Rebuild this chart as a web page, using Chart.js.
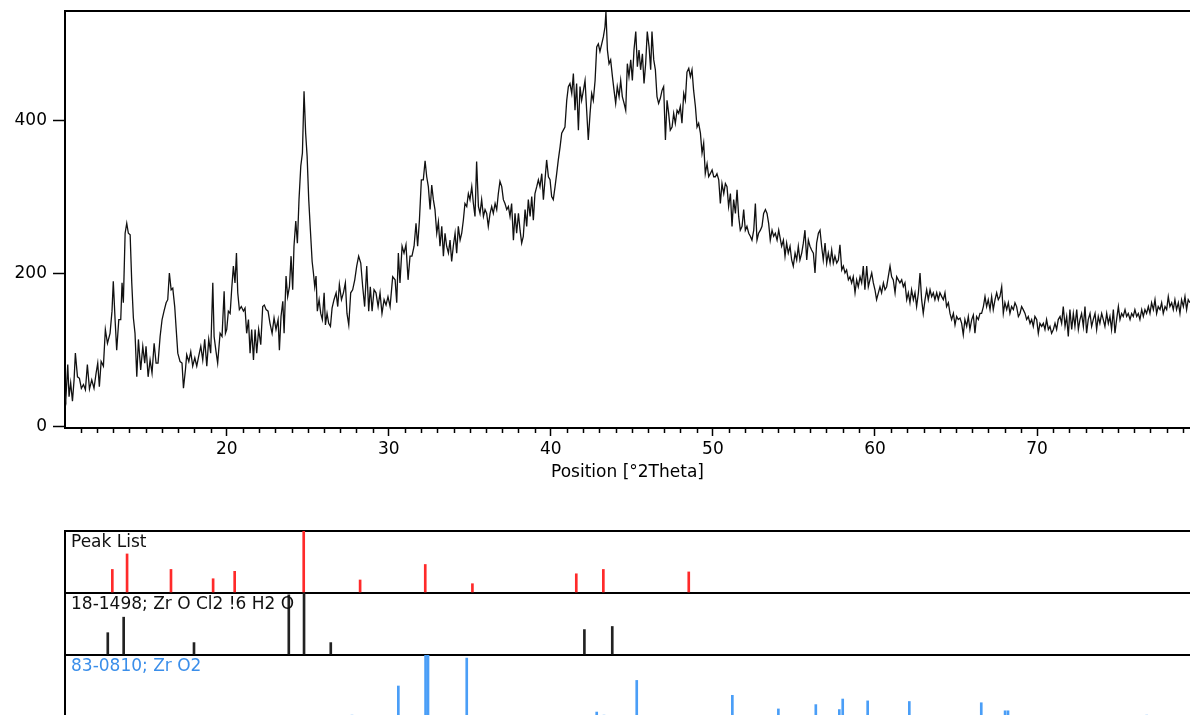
<!DOCTYPE html>
<html><head><meta charset="utf-8">
<script src="https://cdn.jsdelivr.net/npm/chart.js@4.4.1/dist/chart.umd.min.js"></script>
<style>
html,body{margin:0;padding:0;background:#fff;overflow:hidden;width:1190px;height:715px}
.wrap{position:absolute;left:0;width:1190px}
</style></head><body>
<div class="wrap" style="top:0;height:500px"><canvas id="top" width="1190" height="500"></canvas></div>
<div class="wrap" style="top:520px;height:200px"><canvas id="bot" width="1190" height="200"></canvas></div>
<script>
// ---------- measured scan (°2Theta, counts) ----------
const twoTheta = [
10.02,10.07,10.19,10.27,10.37,10.48,10.58,10.66,10.79,10.91,11.03,11.16,11.28,11.40,11.53,11.67,11.81,11.94,12.04,12.14,
12.25,12.39,12.51,12.64,12.80,12.92,13.00,13.11,13.21,13.34,13.46,13.54,13.62,13.73,13.83,13.93,14.04,14.14,14.24,14.34,
14.45,14.55,14.69,14.82,14.94,15.02,15.15,15.27,15.39,15.52,15.64,15.76,15.89,16.01,16.13,16.26,16.36,16.46,16.57,16.67,
16.79,16.87,16.98,17.12,17.24,17.33,17.45,17.53,17.66,17.78,17.90,18.03,18.15,18.27,18.40,18.52,18.64,18.77,18.89,19.01,
19.14,19.22,19.34,19.44,19.59,19.71,19.84,19.92,20.00,20.10,20.21,20.31,20.41,20.51,20.60,20.68,20.78,20.90,21.03,21.13,
21.23,21.34,21.44,21.54,21.65,21.75,21.85,21.97,22.10,22.22,22.32,22.43,22.55,22.67,22.80,22.92,23.04,23.17,23.25,23.35,
23.46,23.54,23.66,23.76,23.87,23.97,24.07,24.15,24.26,24.36,24.46,24.57,24.67,24.77,24.87,24.96,25.06,25.16,25.27,25.35,
25.43,25.51,25.59,25.70,25.80,25.90,26.01,26.09,26.19,26.29,26.40,26.50,26.62,26.75,26.85,26.95,27.08,27.20,27.32,27.42,
27.53,27.65,27.77,27.90,28.02,28.14,28.27,28.39,28.51,28.64,28.76,28.86,28.97,29.09,29.21,29.34,29.46,29.58,29.71,29.83,
29.95,
30.08,30.24,30.39,30.49,30.59,30.69,30.82,30.94,31.06,31.19,31.31,31.43,31.56,31.68,31.78,31.89,32.01,32.13,32.24,32.34,
32.44,32.55,32.65,32.75,32.85,32.96,33.06,33.16,33.27,33.37,33.47,33.57,33.68,33.78,33.88,33.98,34.09,34.19,34.29,34.40,
34.50,34.60,34.70,34.81,34.91,35.01,35.12,35.22,35.32,35.42,35.53,35.63,35.73,35.84,35.94,36.04,36.14,36.25,36.35,36.45,
36.56,36.66,36.76,36.86,36.97,37.07,37.17,37.28,37.38,37.48,37.58,37.69,37.79,37.89,38.00,38.10,38.20,38.30,38.41,38.51,
38.61,38.72,38.82,38.92,39.02,39.13,39.23,39.33,39.44,39.54,39.64,39.74,39.85,39.95,40.05,40.15,40.26,40.36,40.46,40.57,
40.67,40.77,40.87,40.98,41.08,41.18,41.29,41.39,41.49,41.59,41.70,41.80,41.90,42.01,42.11,42.21,42.31,42.42,42.52,42.62,
42.73,42.83,42.93,43.03,43.14,43.24,43.34,43.40,43.49,43.59,43.69,43.80,43.90,44.00,44.10,44.21,44.31,44.41,44.52,44.62,
44.72,44.82,44.93,45.03,45.13,45.24,45.34,45.44,45.54,45.65,45.75,45.85,45.95,46.06,46.16,46.24,46.35,46.45,46.55,46.65,
46.76,46.86,46.96,47.07,47.17,47.27,47.37,47.48,47.58,47.68,47.79,47.89,47.99,48.09,48.20,48.30,48.40,48.51,48.61,48.71,
48.81,48.92,49.02,49.12,49.23,49.33,49.43,49.53,49.64,49.74,49.84,49.95,50.05,50.15,50.25,50.36,50.46,50.56,50.67,50.77,
50.87,50.97,51.08,51.18,51.28,51.39,51.49,51.59,51.69,51.80,51.90,52.00,52.10,52.21,52.31,52.41,52.52,52.62,52.72,52.82,
52.93,53.03,53.13,53.24,53.34,53.44,53.54,53.65,53.75,53.85,53.96,54.06,
54.24,54.35,54.45,54.55,54.65,54.76,54.86,54.96,55.07,55.17,55.27,55.37,55.48,55.58,55.68,55.79,55.89,55.99,56.09,56.20,
56.30,56.40,56.51,56.61,56.71,56.81,56.92,57.02,57.12,57.23,57.33,57.43,57.53,57.64,57.74,57.84,57.95,58.05,58.15,58.25,
58.36,58.46,58.56,58.66,58.77,58.87,58.97,59.08,59.18,59.28,59.38,59.49,59.59,59.69,59.80,59.90,60.00,60.10,60.21,60.31,
60.41,60.52,60.62,60.72,60.82,60.93,61.03,61.13,61.24,61.34,61.44,61.54,61.65,61.75,61.85,61.96,62.06,62.16,62.26,62.37,
62.47,62.57,62.68,62.78,62.88,62.98,63.09,63.19,63.29,63.40,63.50,63.60,63.70,63.81,63.91,64.01,64.12,64.22,64.32,64.42,
64.53,64.63,64.73,64.84,64.94,65.04,65.14,65.25,65.35,65.45,65.55,65.66,65.76,65.86,65.97,66.07,66.17,66.27,66.38,66.48,
66.58,66.69,66.79,66.89,66.99,67.10,67.20,67.30,67.41,67.51,67.61,67.71,67.82,67.92,68.02,68.13,68.23,68.33,68.43,68.54,
68.64,68.74,68.85,68.95,69.05,69.15,69.26,69.36,69.46,69.57,69.67,69.77,69.87,69.98,70.08,70.18,70.29,70.39,70.49,70.59,
70.70,70.80,70.90,71.01,71.11,71.21,71.31,71.42,71.52,71.62,71.73,71.83,71.93,72.03,72.14,72.24,72.34,72.45,72.55,72.65,
72.75,72.86,72.96,73.06,73.16,73.27,73.37,73.47,73.58,73.68,73.78,73.88,73.99,74.09,74.19,74.30,74.40,74.50,74.60,74.71,
74.81,74.91,75.02,75.12,75.22,75.32,75.43,75.53,75.63,75.74,75.84,75.94,76.04,76.15,76.25,76.35,76.46,76.56,76.66,76.76,
76.87,76.97,77.07,77.18,77.28,77.38,77.48,77.59,77.69,77.79,77.90,78.00,78.10,78.20,78.31,78.41,78.51,78.61,78.72,78.82,
78.92,79.03,79.13,79.23,79.33,79.44
];
const counts = [
40,35,81,39,57,33,61,96,65,63,50,55,48,81,49,61,50,70,83,52,
85,79,127,109,122,151,190,140,100,140,140,188,162,253,266,253,251,188,142,122,
65,114,74,105,83,105,65,87,70,109,83,83,118,140,151,162,166,201,179,181,
157,131,96,85,83,50,74,94,85,98,79,90,79,92,105,87,114,79,114,96,
188,118,98,83,122,118,177,122,127,151,148,181,210,188,227,175,153,157,151,155,
122,140,96,127,87,127,96,127,107,157,159,153,151,135,122,142,127,140,100,144,
164,122,197,170,183,223,179,236,269,240,297,341,358,439,384,354,297,258,216,201,
183,197,151,166,148,140,175,133,148,135,131,155,166,175,157,186,166,175,188,148,
133,175,179,192,210,223,214,183,157,210,151,183,151,179,175,157,175,148,166,159,
170,
157,196,192,162,227,188,236,227,238,192,223,223,236,266,236,270,323,323,348,327,
314,284,316,297,284,253,268,236,262,223,253,236,227,244,216,236,253,227,262,244,
253,270,292,288,305,297,314,292,275,347,288,279,297,275,284,279,262,279,288,279,
292,284,305,321,314,297,292,284,288,275,292,244,279,253,279,257,240,249,284,262,
297,275,301,270,305,314,323,314,331,297,323,349,327,323,301,297,314,331,349,366,
384,388,392,427,445,449,436,462,414,449,388,445,427,440,453,414,375,410,436,427,
453,497,501,491,501,510,523,543,493,475,480,458,440,423,445,432,453,432,423,414,
475,458,480,453,493,517,471,493,467,488,449,475,517,497,467,517,480,467,432,423,
430,440,445,375,427,410,388,392,410,397,414,410,419,397,436,427,464,469,458,467,
440,419,392,397,384,358,371,331,344,327,331,336,327,327,331,323,292,318,305,318,
314,288,305,262,297,279,310,275,257,262,284,257,262,253,249,244,257,292,244,253,
257,262,279,284,279,266,244,257,249,253,244,257,
236,244,223,240,227,236,218,210,227,218,236,218,227,240,257,218,244,236,231,227,
201,240,253,257,236,218,240,214,227,214,231,214,223,214,218,238,205,210,201,205,
192,196,188,196,175,192,183,196,188,210,179,210,183,192,201,188,179,166,175,183,
175,188,179,183,196,210,196,192,175,196,192,188,192,183,188,166,175,162,179,166,
175,157,175,201,166,148,166,179,166,179,170,175,166,175,166,175,170,166,175,157,
162,148,140,148,133,144,140,142,135,120,140,131,144,127,140,146,122,144,140,148,
148,157,170,157,166,153,170,153,166,175,166,170,183,148,162,153,162,148,157,153,
162,157,144,148,157,153,148,140,144,135,140,131,144,140,122,135,131,135,127,140,
127,131,122,127,135,127,140,144,135,157,131,144,118,153,127,148,131,153,127,140,
148,131,157,122,140,148,131,140,148,127,144,135,148,140,131,148,135,144,127,153,
122,140,157,140,148,144,153,144,148,140,148,144,153,144,148,140,153,144,153,148,
157,148,162,153,166,148,157,153,162,148,157,153,170,157,162,153,166,153,162,148,
166,157,170,153,166,162
];
const xTickValues = [20, 30, 40, 50, 60, 70];
const yTickValues = [0, 200, 400];

// ---------- stick patterns (°2Theta, relative intensity %) ----------
const peakPos = [12.94, 13.85, 16.56, 19.16, 20.49, 24.75, 28.23, 32.25, 35.16, 41.57, 43.24, 48.51];
const peakInt = [38, 63, 38, 23, 35, 100, 21, 46, 15, 31, 38, 34];
const ref1Pos = [12.66, 13.64, 17.98, 23.83, 24.77, 26.42, 42.07, 43.79];
const ref1Int = [36, 61, 20, 97, 100, 20, 41, 46];
const ref2Pos = [27.73, 30.59, 32.27, 32.42, 34.81, 42.83, 43.28, 45.30, 45.69, 51.20, 54.04, 56.35, 57.80, 58.01, 59.55, 62.12, 66.56, 68.03, 68.21, 74.30, 76.77];
const ref2Int = [3, 50, 100, 100, 95, 8, 3, 59, 2, 35, 13, 20, 12, 29, 26, 25, 23, 10, 10, 2, 3];
const panelLabels = ['Peak List', '18-1498; Zr O Cl2 !6 H2 O', '83-0810; Zr O2'];
const panelColors = ['#111111', '#111111', '#3a8eea'];

const X_MIN = 10.02, X_MAX = 79.44;
const FONT = "'DejaVu Sans', sans-serif";

const noPad = s => { s.paddingTop = 0; s.paddingBottom = 0; s.paddingLeft = 0; s.paddingRight = 0; };

const minorTicks = {
  id: 'minorTicks',
  afterDraw(chart) {
    const {ctx, chartArea: a, scales: {x}} = chart;
    ctx.save();
    ctx.strokeStyle = '#000';
    ctx.lineWidth = 1.5;
    for (let v = Math.ceil(X_MIN); v <= X_MAX; v++) {
      if (v % 10 === 0) continue;
      const px = Math.round(x.getPixelForValue(v)) + 0.5;
      ctx.beginPath(); ctx.moveTo(px, a.bottom); ctx.lineTo(px, a.bottom + 5); ctx.stroke();
    }
    ctx.lineWidth = 2;
    ctx.beginPath(); ctx.moveTo(a.left - 1, a.top); ctx.lineTo(a.right, a.top); ctx.stroke();
    ctx.restore();
  }
};

new Chart(document.getElementById('top'), {
  type: 'line',
  data: { datasets: [{
    data: twoTheta.map((x, i) => ({x, y: counts[i]})),
    borderColor: '#111111', borderWidth: 1.3, pointRadius: 0, tension: 0, fill: false
  }]},
  options: {
    responsive: false, animation: false,
    layout: {padding: {top: 11, left: 0, right: 0, bottom: 0}},
    plugins: {legend: {display: false}, tooltip: {enabled: false}},
    scales: {
      x: {
        type: 'linear', min: X_MIN, max: X_MAX,
        afterBuildTicks: s => { s.ticks = xTickValues.map(v => ({value: v})); },
        afterFit: s => { s.height = 72; noPad(s); },
        grid: {drawOnChartArea: false, drawTicks: true, tickLength: 8, tickColor: '#000', tickWidth: 1.5},
        border: {display: true, color: '#000', width: 2},
        ticks: {color: '#000', font: {family: FONT, size: 17}, padding: 3, maxRotation: 0, autoSkip: false, callback: v => String(v)},
        title: {display: true, text: 'Position [°2Theta]', color: '#000', font: {family: FONT, size: 17}, padding: {top: 0, bottom: 17}}
      },
      y: {
        type: 'linear', min: -2, max: 544,
        afterBuildTicks: s => { s.ticks = yTickValues.map(v => ({value: v})); },
        afterFit: s => { s.width = 65; noPad(s); },
        grid: {drawOnChartArea: false, tickLength: 12, tickColor: '#000', tickWidth: 1.5},
        border: {color: '#000', width: 2},
        ticks: {color: '#000', font: {family: FONT, size: 17}, padding: 6, callback: v => String(v)}
      }
    }
  },
  plugins: [minorTicks]
});

const panelAxis = () => ({
  type: 'linear', position: 'left', stack: 'panels', stackWeight: 1, min: 0, max: 100,
  afterBuildTicks: s => { s.ticks = [{value: 0}, {value: 100}]; },
  afterFit: s => { s.width = 65; noPad(s); },
  ticks: {display: false},
  grid: {drawTicks: false, color: '#000', lineWidth: 2},
  border: {color: '#000', width: 2}
});

const panelIds = ['yPeak', 'yRef1', 'yRef2'];
const panelText = {
  id: 'panelText',
  afterDatasetsDraw(chart) {
    const ctx = chart.ctx;
    ctx.save();
    ctx.font = '17px ' + FONT;
    ctx.textBaseline = 'alphabetic';
    panelIds.forEach((id, i) => {
      const s = chart.scales[id];
      ctx.fillStyle = panelColors[i];
      ctx.fillText(panelLabels[i], chart.chartArea.left + 6, s.top + 16);
    });
    ctx.restore();
  }
};

new Chart(document.getElementById('bot'), {
  type: 'bar',
  data: { datasets: [
    {data: peakPos.map((x, i) => ({x, y: peakInt[i]})), yAxisID: 'yPeak', backgroundColor: '#ff2a2a', barThickness: 2, grouped: false},
    {data: ref1Pos.map((x, i) => ({x, y: ref1Int[i]})), yAxisID: 'yRef1', backgroundColor: '#222222', barThickness: 2, grouped: false},
    {data: ref2Pos.map((x, i) => ({x, y: ref2Int[i]})), yAxisID: 'yRef2', backgroundColor: '#4a9ef7', barThickness: 2, grouped: false}
  ]},
  options: {
    responsive: false, animation: false,
    layout: {padding: {top: 11, left: 0, right: 0, bottom: 3}},
    plugins: {legend: {display: false}, tooltip: {enabled: false}},
    scales: {
      x: {type: 'linear', min: X_MIN, max: X_MAX, offset: false, display: false},
      yRef2: panelAxis(),
      yRef1: panelAxis(),
      yPeak: panelAxis()
    }
  },
  plugins: [panelText]
});
</script>
</body></html>
